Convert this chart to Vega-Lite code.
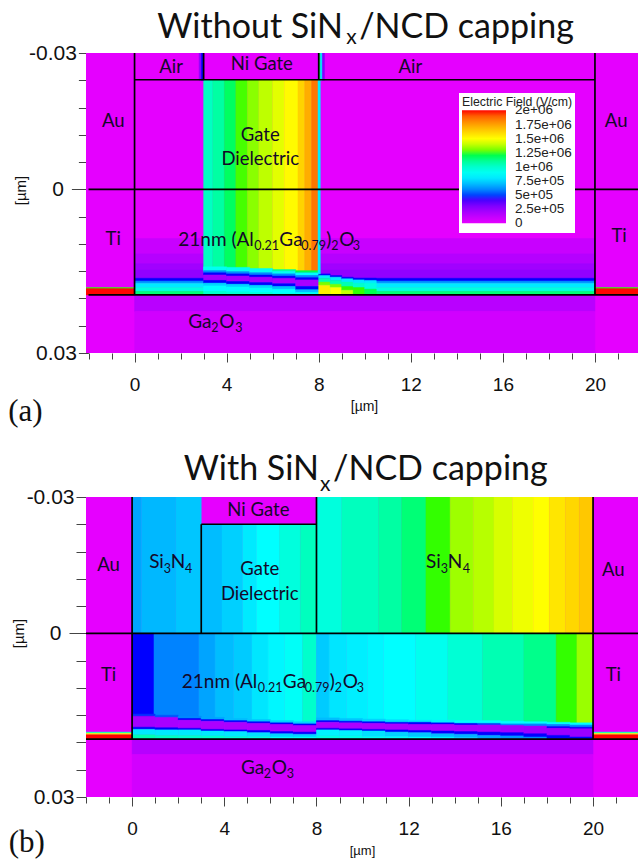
{"$schema":"https://vega.github.io/schema/vega-lite/v6.json","background":"white","padding":{"left":8,"top":10,"right":0,"bottom":0},"bounds":"flush","spacing":144,
"config":{"view":{"stroke":null},"axis":{"grid":false,"labelFont":"Liberation Sans","titleFont":"Liberation Sans","titleFontWeight":"normal","labelColor":"#111","titleColor":"#111","tickColor":"#444"},"text":{"font":"Lato","color":"#14082a"},"rule":{"color":"#000"}},
"resolve":{"scale":{"color":"independent","stroke":"independent","x":"independent","y":"independent"},"legend":{"color":"independent"}},
"datasets":{
"cellsA":[
{"x":-2.2,"x2":22,"y":-0.025,"y2":0.03,"E":0},
{"x":0,"x2":20,"y":0.009,"y2":0.0118,"E":100000},
{"x":0,"x2":20,"y":0.0118,"y2":0.0136,"E":160000},
{"x":0,"x2":20,"y":0.0136,"y2":0.0148,"E":220000},
{"x":0,"x2":20,"y":0.0148,"y2":0.0163,"E":260000},
{"x":0,"x2":20,"y":0.0163,"y2":0.0168,"E":460000},
{"x":0,"x2":20,"y":0.0168,"y2":0.0172,"E":600000},
{"x":0,"x2":20,"y":0.0172,"y2":0.018,"E":800000},
{"x":0,"x2":20,"y":0.018,"y2":0.0187,"E":950000},
{"x":0,"x2":20,"y":0.0187,"y2":0.01935,"E":1150000},
{"x":0,"x2":20,"y":0.01935,"y2":0.0224,"E":150000},
{"x":0,"x2":20,"y":0.0224,"y2":0.03,"E":70000},
{"x":-2.2,"x2":0,"y":0.018,"y2":0.0182,"E":1250000},
{"x":20,"x2":22,"y":0.018,"y2":0.0182,"E":1250000},
{"x":-2.2,"x2":0,"y":0.0182,"y2":0.01935,"E":2000000},
{"x":20,"x2":22,"y":0.0182,"y2":0.01935,"E":2000000},
{"x":3,"x2":3.4,"y":-0.0201,"y2":0.015,"E":1020000},
{"x":3.4,"x2":3.9,"y":-0.0201,"y2":0.015,"E":1080000},
{"x":3.9,"x2":4.4,"y":-0.0201,"y2":0.015,"E":1180000},
{"x":4.4,"x2":4.9,"y":-0.0201,"y2":0.015,"E":1260000},
{"x":4.9,"x2":5.4,"y":-0.0201,"y2":0.015,"E":1320000},
{"x":5.4,"x2":6,"y":-0.0201,"y2":0.015,"E":1390000},
{"x":6,"x2":6.5,"y":-0.0201,"y2":0.015,"E":1450000},
{"x":6.5,"x2":7.1,"y":-0.0201,"y2":0.015,"E":1510000},
{"x":7.1,"x2":7.4,"y":-0.0201,"y2":0.015,"E":1620000},
{"x":7.4,"x2":7.7,"y":-0.0201,"y2":0.015,"E":1720000},
{"x":7.7,"x2":8,"y":-0.0201,"y2":0.015,"E":1850000},
{"x":3,"x2":4,"y":0.0142,"y2":0.0149,"E":900000},
{"x":3,"x2":4,"y":0.0149,"y2":0.0153,"E":600000},
{"x":3,"x2":4,"y":0.0153,"y2":0.0157,"E":460000},
{"x":3,"x2":4,"y":0.0157,"y2":0.0167,"E":230000},
{"x":3,"x2":4,"y":0.0167,"y2":0.0172,"E":460000},
{"x":3,"x2":4,"y":0.0172,"y2":0.0177,"E":750000},
{"x":3,"x2":4,"y":0.0177,"y2":0.0187,"E":850000},
{"x":3,"x2":4,"y":0.0187,"y2":0.01935,"E":1000000},
{"x":4,"x2":5,"y":0.0143,"y2":0.0151,"E":900000},
{"x":4,"x2":5,"y":0.0151,"y2":0.0155,"E":600000},
{"x":4,"x2":5,"y":0.0155,"y2":0.0159,"E":460000},
{"x":4,"x2":5,"y":0.0159,"y2":0.0169,"E":220000},
{"x":4,"x2":5,"y":0.0169,"y2":0.0174,"E":460000},
{"x":4,"x2":5,"y":0.0174,"y2":0.0179,"E":750000},
{"x":4,"x2":5,"y":0.0179,"y2":0.0188,"E":850000},
{"x":4,"x2":5,"y":0.0188,"y2":0.01935,"E":980000},
{"x":5,"x2":6,"y":0.0145,"y2":0.0153,"E":900000},
{"x":5,"x2":6,"y":0.0153,"y2":0.0157,"E":600000},
{"x":5,"x2":6,"y":0.0157,"y2":0.0161,"E":460000},
{"x":5,"x2":6,"y":0.0161,"y2":0.0171,"E":220000},
{"x":5,"x2":6,"y":0.0171,"y2":0.0176,"E":460000},
{"x":5,"x2":6,"y":0.0176,"y2":0.0181,"E":750000},
{"x":5,"x2":6,"y":0.0181,"y2":0.0189,"E":850000},
{"x":5,"x2":6,"y":0.0189,"y2":0.01935,"E":950000},
{"x":6,"x2":7,"y":0.0147,"y2":0.015,"E":1100000},
{"x":6,"x2":7,"y":0.015,"y2":0.0155,"E":900000},
{"x":6,"x2":7,"y":0.0155,"y2":0.0159,"E":600000},
{"x":6,"x2":7,"y":0.0159,"y2":0.0163,"E":460000},
{"x":6,"x2":7,"y":0.0163,"y2":0.0173,"E":200000},
{"x":6,"x2":7,"y":0.0173,"y2":0.0178,"E":460000},
{"x":6,"x2":7,"y":0.0178,"y2":0.0183,"E":700000},
{"x":6,"x2":7,"y":0.0183,"y2":0.019,"E":850000},
{"x":6,"x2":7,"y":0.019,"y2":0.01935,"E":900000},
{"x":7,"x2":8,"y":0.0149,"y2":0.0153,"E":1200000},
{"x":7,"x2":8,"y":0.0153,"y2":0.0158,"E":850000},
{"x":7,"x2":8,"y":0.0158,"y2":0.0162,"E":600000},
{"x":7,"x2":8,"y":0.0162,"y2":0.0166,"E":460000},
{"x":7,"x2":8,"y":0.0166,"y2":0.0178,"E":200000},
{"x":7,"x2":8,"y":0.0178,"y2":0.0184,"E":460000},
{"x":7,"x2":8,"y":0.0184,"y2":0.0189,"E":700000},
{"x":7,"x2":8,"y":0.0189,"y2":0.01935,"E":850000},
{"x":8,"x2":8.5,"y":0.0155,"y2":0.0158,"E":460000},
{"x":8,"x2":8.5,"y":0.0158,"y2":0.0163,"E":800000},
{"x":8,"x2":8.5,"y":0.0163,"y2":0.017,"E":1050000},
{"x":8,"x2":8.5,"y":0.017,"y2":0.0176,"E":1300000},
{"x":8,"x2":8.5,"y":0.0176,"y2":0.01935,"E":1550000},
{"x":8.5,"x2":9,"y":0.0158,"y2":0.0161,"E":460000},
{"x":8.5,"x2":9,"y":0.0161,"y2":0.0167,"E":800000},
{"x":8.5,"x2":9,"y":0.0167,"y2":0.0174,"E":1050000},
{"x":8.5,"x2":9,"y":0.0174,"y2":0.018,"E":1300000},
{"x":8.5,"x2":9,"y":0.018,"y2":0.01935,"E":1500000},
{"x":9,"x2":9.5,"y":0.0161,"y2":0.0164,"E":460000},
{"x":9,"x2":9.5,"y":0.0164,"y2":0.017,"E":800000},
{"x":9,"x2":9.5,"y":0.017,"y2":0.0178,"E":1050000},
{"x":9,"x2":9.5,"y":0.0178,"y2":0.0185,"E":1250000},
{"x":9,"x2":9.5,"y":0.0185,"y2":0.01935,"E":1400000},
{"x":9.5,"x2":10,"y":0.0163,"y2":0.0166,"E":460000},
{"x":9.5,"x2":10,"y":0.0166,"y2":0.0172,"E":800000},
{"x":9.5,"x2":10,"y":0.0172,"y2":0.018,"E":1000000},
{"x":9.5,"x2":10,"y":0.018,"y2":0.01935,"E":1250000},
{"x":10,"x2":10.5,"y":0.0163,"y2":0.0167,"E":460000},
{"x":10,"x2":10.5,"y":0.0167,"y2":0.0172,"E":800000},
{"x":10,"x2":10.5,"y":0.0172,"y2":0.0183,"E":950000},
{"x":10,"x2":10.5,"y":0.0183,"y2":0.01935,"E":1200000},
{"x":2.8,"x2":2.9,"y":-0.025,"y2":-0.02,"E":250000},
{"x":2.9,"x2":3,"y":-0.025,"y2":-0.02,"E":460000},
{"x":8,"x2":8.08,"y":-0.025,"y2":-0.02,"E":1200000},
{"x":8.08,"x2":8.16,"y":-0.025,"y2":-0.02,"E":800000},
{"x":8.16,"x2":8.25,"y":-0.025,"y2":-0.02,"E":300000},
{"x":7.97,"x2":8.07,"y":-0.02,"y2":0.0155,"E":800000}
],
"cellsB":[
{"x":-2.2,"x2":22,"y":-0.025,"y2":0.03,"E":0},
{"x":0,"x2":0.4,"y":-0.025,"y2":0,"E":650000},
{"x":0.4,"x2":1.9,"y":-0.025,"y2":0,"E":690000},
{"x":1.9,"x2":3,"y":-0.025,"y2":0,"E":720000},
{"x":3,"x2":3.9,"y":-0.02,"y2":0,"E":700000},
{"x":3.9,"x2":4.8,"y":-0.02,"y2":0,"E":740000},
{"x":4.8,"x2":5.4,"y":-0.02,"y2":0,"E":800000},
{"x":5.4,"x2":6.4,"y":-0.02,"y2":0,"E":850000},
{"x":6.4,"x2":7.3,"y":-0.02,"y2":0,"E":960000},
{"x":7.3,"x2":8,"y":-0.02,"y2":0,"E":1030000},
{"x":8,"x2":9.1,"y":-0.025,"y2":0,"E":960000},
{"x":9.1,"x2":10.7,"y":-0.025,"y2":0,"E":1030000},
{"x":10.7,"x2":11.7,"y":-0.025,"y2":0,"E":1080000},
{"x":11.7,"x2":12.75,"y":-0.025,"y2":0,"E":1150000},
{"x":12.75,"x2":13.8,"y":-0.025,"y2":0,"E":1250000},
{"x":13.8,"x2":14.8,"y":-0.025,"y2":0,"E":1345000},
{"x":14.8,"x2":15.7,"y":-0.025,"y2":0,"E":1380000},
{"x":15.7,"x2":16.5,"y":-0.025,"y2":0,"E":1430000},
{"x":16.5,"x2":17.4,"y":-0.025,"y2":0,"E":1470000},
{"x":17.4,"x2":18.1,"y":-0.025,"y2":0,"E":1500000},
{"x":18.1,"x2":18.8,"y":-0.025,"y2":0,"E":1570000},
{"x":18.8,"x2":19.4,"y":-0.025,"y2":0,"E":1610000},
{"x":19.4,"x2":20,"y":-0.025,"y2":0,"E":1650000},
{"x":0,"x2":0.95,"y":0,"y2":0.0165,"E":460000},
{"x":0.95,"x2":2.9,"y":0,"y2":0.0165,"E":590000},
{"x":2.9,"x2":3.6,"y":0,"y2":0.0165,"E":650000},
{"x":3.6,"x2":4.4,"y":0,"y2":0.0165,"E":700000},
{"x":4.4,"x2":5.2,"y":0,"y2":0.0165,"E":730000},
{"x":5.2,"x2":5.9,"y":0,"y2":0.0165,"E":790000},
{"x":5.9,"x2":6.6,"y":0,"y2":0.0165,"E":830000},
{"x":6.6,"x2":7.4,"y":0,"y2":0.0165,"E":880000},
{"x":7.4,"x2":8,"y":0,"y2":0.0165,"E":1000000},
{"x":8,"x2":8.55,"y":0,"y2":0.0165,"E":730000},
{"x":8.55,"x2":9.3,"y":0,"y2":0.0165,"E":790000},
{"x":9.3,"x2":10.2,"y":0,"y2":0.0165,"E":810000},
{"x":10.2,"x2":10.9,"y":0,"y2":0.0165,"E":830000},
{"x":10.9,"x2":12.3,"y":0,"y2":0.0165,"E":850000},
{"x":12.3,"x2":13.7,"y":0,"y2":0.0165,"E":910000},
{"x":13.7,"x2":15.2,"y":0,"y2":0.0165,"E":980000},
{"x":15.2,"x2":17,"y":0,"y2":0.0165,"E":1050000},
{"x":17,"x2":18.4,"y":0,"y2":0.0165,"E":1120000},
{"x":18.4,"x2":19.3,"y":0,"y2":0.0165,"E":1250000},
{"x":19.3,"x2":20,"y":0,"y2":0.0165,"E":1340000},
{"x":0,"x2":1,"y":0.0148,"y2":0.0152,"E":480000},
{"x":0,"x2":1,"y":0.0152,"y2":0.0172,"E":210000},
{"x":0,"x2":1,"y":0.0172,"y2":0.0176,"E":460000},
{"x":0,"x2":1,"y":0.0176,"y2":0.0186,"E":800000},
{"x":0,"x2":1,"y":0.0186,"y2":0.01935,"E":1050000},
{"x":1,"x2":2,"y":0.015,"y2":0.0154,"E":520000},
{"x":1,"x2":2,"y":0.0154,"y2":0.0173,"E":200000},
{"x":1,"x2":2,"y":0.0173,"y2":0.0177,"E":460000},
{"x":1,"x2":2,"y":0.0177,"y2":0.0187,"E":800000},
{"x":1,"x2":2,"y":0.0187,"y2":0.01935,"E":1020000},
{"x":2,"x2":3,"y":0.0152,"y2":0.0156,"E":600000},
{"x":2,"x2":3,"y":0.0156,"y2":0.0159,"E":460000},
{"x":2,"x2":3,"y":0.0159,"y2":0.0174,"E":190000},
{"x":2,"x2":3,"y":0.0174,"y2":0.0177,"E":460000},
{"x":2,"x2":3,"y":0.0177,"y2":0.0187,"E":800000},
{"x":2,"x2":3,"y":0.0187,"y2":0.01935,"E":1000000},
{"x":3,"x2":4,"y":0.0154,"y2":0.0158,"E":650000},
{"x":3,"x2":4,"y":0.0158,"y2":0.0161,"E":460000},
{"x":3,"x2":4,"y":0.0161,"y2":0.0176,"E":190000},
{"x":3,"x2":4,"y":0.0176,"y2":0.0179,"E":460000},
{"x":3,"x2":4,"y":0.0179,"y2":0.0188,"E":800000},
{"x":3,"x2":4,"y":0.0188,"y2":0.01935,"E":1000000},
{"x":4,"x2":5,"y":0.0156,"y2":0.016,"E":700000},
{"x":4,"x2":5,"y":0.016,"y2":0.0163,"E":460000},
{"x":4,"x2":5,"y":0.0163,"y2":0.0177,"E":190000},
{"x":4,"x2":5,"y":0.0177,"y2":0.018,"E":460000},
{"x":4,"x2":5,"y":0.018,"y2":0.0189,"E":800000},
{"x":4,"x2":5,"y":0.0189,"y2":0.01935,"E":980000},
{"x":5,"x2":6,"y":0.0158,"y2":0.0162,"E":720000},
{"x":5,"x2":6,"y":0.0162,"y2":0.0165,"E":460000},
{"x":5,"x2":6,"y":0.0165,"y2":0.0178,"E":190000},
{"x":5,"x2":6,"y":0.0178,"y2":0.0182,"E":460000},
{"x":5,"x2":6,"y":0.0182,"y2":0.0189,"E":780000},
{"x":5,"x2":6,"y":0.0189,"y2":0.01935,"E":950000},
{"x":6,"x2":7,"y":0.016,"y2":0.0164,"E":750000},
{"x":6,"x2":7,"y":0.0164,"y2":0.0167,"E":460000},
{"x":6,"x2":7,"y":0.0167,"y2":0.018,"E":190000},
{"x":6,"x2":7,"y":0.018,"y2":0.0184,"E":460000},
{"x":6,"x2":7,"y":0.0184,"y2":0.019,"E":750000},
{"x":6,"x2":7,"y":0.019,"y2":0.01935,"E":880000},
{"x":7,"x2":8,"y":0.0162,"y2":0.0166,"E":750000},
{"x":7,"x2":8,"y":0.0166,"y2":0.0169,"E":460000},
{"x":7,"x2":8,"y":0.0169,"y2":0.0181,"E":190000},
{"x":7,"x2":8,"y":0.0181,"y2":0.0185,"E":460000},
{"x":7,"x2":8,"y":0.0185,"y2":0.019,"E":750000},
{"x":7,"x2":8,"y":0.019,"y2":0.01935,"E":880000},
{"x":8,"x2":9,"y":0.0155,"y2":0.016,"E":700000},
{"x":8,"x2":9,"y":0.016,"y2":0.0163,"E":460000},
{"x":8,"x2":9,"y":0.0163,"y2":0.0174,"E":190000},
{"x":8,"x2":9,"y":0.0174,"y2":0.0177,"E":460000},
{"x":8,"x2":9,"y":0.0177,"y2":0.0188,"E":820000},
{"x":8,"x2":9,"y":0.0188,"y2":0.01935,"E":950000},
{"x":9,"x2":10,"y":0.0156,"y2":0.0161,"E":720000},
{"x":9,"x2":10,"y":0.0161,"y2":0.0164,"E":460000},
{"x":9,"x2":10,"y":0.0164,"y2":0.0175,"E":190000},
{"x":9,"x2":10,"y":0.0175,"y2":0.0178,"E":460000},
{"x":9,"x2":10,"y":0.0178,"y2":0.0188,"E":820000},
{"x":9,"x2":10,"y":0.0188,"y2":0.01935,"E":930000},
{"x":10,"x2":11,"y":0.0157,"y2":0.0162,"E":750000},
{"x":10,"x2":11,"y":0.0162,"y2":0.0165,"E":460000},
{"x":10,"x2":11,"y":0.0165,"y2":0.0176,"E":190000},
{"x":10,"x2":11,"y":0.0176,"y2":0.0179,"E":460000},
{"x":10,"x2":11,"y":0.0179,"y2":0.0189,"E":780000},
{"x":10,"x2":11,"y":0.0189,"y2":0.01935,"E":900000},
{"x":11,"x2":12,"y":0.0158,"y2":0.0163,"E":780000},
{"x":11,"x2":12,"y":0.0163,"y2":0.0166,"E":460000},
{"x":11,"x2":12,"y":0.0166,"y2":0.0177,"E":190000},
{"x":11,"x2":12,"y":0.0177,"y2":0.0181,"E":460000},
{"x":11,"x2":12,"y":0.0181,"y2":0.0189,"E":750000},
{"x":11,"x2":12,"y":0.0189,"y2":0.01935,"E":880000},
{"x":12,"x2":13,"y":0.0159,"y2":0.0163,"E":800000},
{"x":12,"x2":13,"y":0.0163,"y2":0.0167,"E":460000},
{"x":12,"x2":13,"y":0.0167,"y2":0.0178,"E":190000},
{"x":12,"x2":13,"y":0.0178,"y2":0.0182,"E":460000},
{"x":12,"x2":13,"y":0.0182,"y2":0.019,"E":720000},
{"x":12,"x2":13,"y":0.019,"y2":0.01935,"E":860000},
{"x":13,"x2":14,"y":0.0159,"y2":0.0164,"E":820000},
{"x":13,"x2":14,"y":0.0164,"y2":0.0167,"E":460000},
{"x":13,"x2":14,"y":0.0167,"y2":0.0179,"E":190000},
{"x":13,"x2":14,"y":0.0179,"y2":0.0184,"E":460000},
{"x":13,"x2":14,"y":0.0184,"y2":0.019,"E":700000},
{"x":13,"x2":14,"y":0.019,"y2":0.01935,"E":820000},
{"x":14,"x2":15,"y":0.016,"y2":0.0165,"E":850000},
{"x":14,"x2":15,"y":0.0165,"y2":0.0168,"E":460000},
{"x":14,"x2":15,"y":0.0168,"y2":0.018,"E":200000},
{"x":14,"x2":15,"y":0.018,"y2":0.0185,"E":460000},
{"x":14,"x2":15,"y":0.0185,"y2":0.0191,"E":680000},
{"x":14,"x2":15,"y":0.0191,"y2":0.01935,"E":780000},
{"x":15,"x2":16,"y":0.016,"y2":0.0165,"E":850000},
{"x":15,"x2":16,"y":0.0165,"y2":0.0168,"E":500000},
{"x":15,"x2":16,"y":0.0168,"y2":0.0181,"E":200000},
{"x":15,"x2":16,"y":0.0181,"y2":0.0187,"E":460000},
{"x":15,"x2":16,"y":0.0187,"y2":0.01935,"E":650000},
{"x":16,"x2":17,"y":0.0161,"y2":0.0166,"E":850000},
{"x":16,"x2":17,"y":0.0166,"y2":0.0169,"E":600000},
{"x":16,"x2":17,"y":0.0169,"y2":0.0182,"E":220000},
{"x":16,"x2":17,"y":0.0182,"y2":0.0188,"E":460000},
{"x":16,"x2":17,"y":0.0188,"y2":0.01935,"E":620000},
{"x":17,"x2":18,"y":0.0162,"y2":0.0166,"E":850000},
{"x":17,"x2":18,"y":0.0166,"y2":0.017,"E":600000},
{"x":17,"x2":18,"y":0.017,"y2":0.0184,"E":230000},
{"x":17,"x2":18,"y":0.0184,"y2":0.019,"E":460000},
{"x":17,"x2":18,"y":0.019,"y2":0.01935,"E":600000},
{"x":18,"x2":19,"y":0.0163,"y2":0.0167,"E":850000},
{"x":18,"x2":19,"y":0.0167,"y2":0.0171,"E":600000},
{"x":18,"x2":19,"y":0.0171,"y2":0.0174,"E":460000},
{"x":18,"x2":19,"y":0.0174,"y2":0.0187,"E":240000},
{"x":18,"x2":19,"y":0.0187,"y2":0.01935,"E":460000},
{"x":19,"x2":20,"y":0.0164,"y2":0.0168,"E":850000},
{"x":19,"x2":20,"y":0.0168,"y2":0.0172,"E":600000},
{"x":19,"x2":20,"y":0.0172,"y2":0.0175,"E":460000},
{"x":19,"x2":20,"y":0.0175,"y2":0.019,"E":240000},
{"x":19,"x2":20,"y":0.019,"y2":0.01935,"E":460000},
{"x":0,"x2":20,"y":0.0194,"y2":0.0222,"E":160000},
{"x":0,"x2":20,"y":0.0222,"y2":0.03,"E":70000},
{"x":-2.2,"x2":0,"y":0.0181,"y2":0.0183,"E":1000000},
{"x":20,"x2":22,"y":0.0181,"y2":0.0183,"E":1000000},
{"x":-2.2,"x2":0,"y":0.0183,"y2":0.0186,"E":1500000},
{"x":20,"x2":22,"y":0.0183,"y2":0.0186,"E":1500000},
{"x":-2.2,"x2":0,"y":0.0186,"y2":0.0194,"E":2000000},
{"x":20,"x2":22,"y":0.0186,"y2":0.0194,"E":2000000}
],
"linesA":[
{"x":-2,"x2":22,"y":0,"y2":0},
{"x":-2,"x2":22,"y":0.01935,"y2":0.01935},
{"x":0,"x2":20,"y":-0.0201,"y2":-0.0201},
{"x":0,"x2":0,"y":-0.025,"y2":0.01935},
{"x":20,"x2":20,"y":-0.025,"y2":0.01935},
{"x":3,"x2":3,"y":-0.025,"y2":-0.0201},
{"x":8,"x2":8,"y":-0.025,"y2":-0.0201}
],
"linesB":[
{"x":-2,"x2":22,"y":0,"y2":0},
{"x":-2,"x2":22,"y":0.0194,"y2":0.0194},
{"x":3,"x2":8,"y":-0.02,"y2":-0.02},
{"x":0,"x2":0,"y":-0.025,"y2":0.0194},
{"x":20,"x2":20,"y":-0.025,"y2":0.0194},
{"x":3,"x2":3,"y":-0.02,"y2":0},
{"x":8,"x2":8,"y":-0.025,"y2":0}
],
"labelsA":[
{"kind":"label","x":1.59,"y":-0.0224,"t":"Air"},
{"kind":"label","x":5.53,"y":-0.0229,"t":"Ni Gate"},
{"kind":"label","x":11.98,"y":-0.0224,"t":"Air"},
{"kind":"label","x":-0.925,"y":-0.0125,"t":"Au"},
{"kind":"label","x":-0.925,"y":0.00903,"t":"Ti"},
{"kind":"label","x":20.92,"y":-0.0125,"t":"Au"},
{"kind":"label","x":21.05,"y":0.00861,"t":"Ti"},
{"kind":"label","x":5.46,"y":-0.0099,"t":"Gate"},
{"kind":"label","x":5.46,"y":-0.0055,"t":"Dielectric"},
{"kind":"piece","x":1.9,"y":0.00934,"t":"21nm (Al"},
{"kind":"sub","x":5.2,"y":0.01035,"t":"0.21"},
{"kind":"piece","x":6.29,"y":0.00934,"t":"Ga"},
{"kind":"sub","x":7.24,"y":0.01035,"t":"0.79"},
{"kind":"piece","x":8.33,"y":0.00934,"t":")"},
{"kind":"sub","x":8.54,"y":0.01035,"t":"2"},
{"kind":"piece","x":8.89,"y":0.00934,"t":"O"},
{"kind":"sub","x":9.48,"y":0.01035,"t":"3"},
{"kind":"piece","x":2.33,"y":0.02436,"t":"Ga"},
{"kind":"sub","x":3.33,"y":0.02537,"t":"2"},
{"kind":"piece","x":3.68,"y":0.02436,"t":"O"},
{"kind":"sub","x":4.37,"y":0.02537,"t":"3"},
{"kind":"title","x":0.986,"y":-0.02967,"t":"Without SiN"},
{"kind":"titleSub","x":9.2,"y":-0.02766,"t":"x"},
{"kind":"title","x":9.76,"y":-0.02967,"t":"/NCD capping"},
{"kind":"tag","x":-5.49,"y":0.04079,"t":"(a)"}
],
"labelsB":[
{"kind":"label","x":-1.02,"y":-0.0125,"t":"Au"},
{"kind":"label","x":-1.02,"y":0.00763,"t":"Ti"},
{"kind":"label","x":20.88,"y":-0.0116,"t":"Au"},
{"kind":"label","x":20.88,"y":0.00763,"t":"Ti"},
{"kind":"piece","x":0.74,"y":-0.013,"t":"Si"},
{"kind":"sub","x":1.375,"y":-0.01172,"t":"3"},
{"kind":"piece","x":1.68,"y":-0.013,"t":"N"},
{"kind":"sub","x":2.29,"y":-0.01172,"t":"4"},
{"kind":"piece","x":12.75,"y":-0.013,"t":"Si"},
{"kind":"sub","x":13.39,"y":-0.01172,"t":"3"},
{"kind":"piece","x":13.7,"y":-0.013,"t":"N"},
{"kind":"sub","x":14.35,"y":-0.01172,"t":"4"},
{"kind":"label","x":5.48,"y":-0.0227,"t":"Ni Gate"},
{"kind":"label","x":5.54,"y":-0.01178,"t":"Gate"},
{"kind":"label","x":5.54,"y":-0.0072,"t":"Dielectric"},
{"kind":"piece","x":2.156,"y":0.00886,"t":"21nm (Al"},
{"kind":"sub","x":5.45,"y":0.00996,"t":"0.21"},
{"kind":"piece","x":6.54,"y":0.00886,"t":"Ga"},
{"kind":"sub","x":7.49,"y":0.00996,"t":"0.79"},
{"kind":"piece","x":8.58,"y":0.00886,"t":")"},
{"kind":"sub","x":8.79,"y":0.00996,"t":"2"},
{"kind":"piece","x":9.14,"y":0.00886,"t":"O"},
{"kind":"sub","x":9.75,"y":0.00996,"t":"3"},
{"kind":"piece","x":4.72,"y":0.02473,"t":"Ga"},
{"kind":"sub","x":5.71,"y":0.0258,"t":"2"},
{"kind":"piece","x":6.06,"y":0.02473,"t":"O"},
{"kind":"sub","x":6.71,"y":0.0258,"t":"3"},
{"kind":"title","x":2.24,"y":-0.0299,"t":"With SiN"},
{"kind":"titleSub","x":8.15,"y":-0.0272,"t":"x"},
{"kind":"title","x":8.72,"y":-0.0299,"t":"/NCD capping"},
{"kind":"tag","x":-5.35,"y":0.03846,"t":"(b)"}
]},
"vconcat":[
{"width":552,"height":300,"layer":[
{"data":{"name":"cellsA"},"mark":{"type":"rect","clip":true,"strokeWidth":0.5},"encoding":{
"x":{"field":"x","type":"quantitative","scale":{"domain":[-2.109,21.87],"nice":false,"zero":false},"axis":{"values":[-2,-1,0,1,2,3,4,5,6,7,8,9,10,11,12,13,14,15,16,17,18,19,20,21],"tickCount":100,"labelExpr":"datum.value%4==0?datum.value:''","tickSize":{"condition":{"test":"datum.value%4==0","value":9},"value":6},"labelFontSize":19,"labelPadding":13,"domain":false,"labelFlush":false,"labelOverlap":false,"title":"[µm]","titleFontSize":14,"titleX":278,"titleY":46}},
"x2":{"field":"x2"},
"y":{"field":"y","type":"quantitative","scale":{"domain":[-0.025,0.03],"reverse":true,"nice":false,"zero":false},"axis":{"values":[-0.025,-0.02,-0.015,-0.01,-0.005,0,0.005,0.01,0.015,0.02,0.025,0.03],"tickCount":100,"offset":-2.4,"labelExpr":"abs(datum.value+0.025)<1e-9?'-0.03':abs(datum.value)<1e-9?'0':abs(datum.value-0.03)<1e-9?'0.03':''","tickSize":{"condition":{"test":"abs(datum.value)<1e-9","value":17},"value":10},"labelFontSize":21,"labelPadding":{"condition":{"test":"abs(datum.value)<1e-9","value":8},"value":2},"domain":false,"labelFlush":false,"labelOverlap":false,"title":"[µm]","titleFontSize":15,"titleX":-60,"titleY":137}},
"y2":{"field":"y2"},
"stroke":{"field":"E","type":"quantitative","scale":{"domain":[0,460000,850000,1250000,1500000,2000001],"range":["#e600ff","#0000ff","#00ffff","#33ff00","#ffff00","#ff0000"],"clamp":true},"legend":null},
"color":{"field":"E","type":"quantitative","scale":{"domain":[-2000,460000,850000,1250000,1500000,2002000],"range":["#e600ff","#0000ff","#00ffff","#33ff00","#ffff00","#ff0000"],"clamp":true},"legend":{"type":"gradient","orient":"none","legendX":373,"legendY":40,"zindex":1,"fillColor":"white","padding":3,"title":"Electric Field (V/cm)","titleFont":"Liberation Sans","titleFontSize":12.3,"titleFontWeight":"normal","titleColor":"#222","titlePadding":2,"values":[0,250000,500000,750000,1000000,1250000,1500000,1750000,2000000],"labelExpr":"datum.value==0?'0':replace(format(datum.value,'.3~e'),'e+','e+0')","labelFont":"Liberation Sans","labelFontSize":13.5,"labelColor":"#222","labelOffset":9,"labelOverlap":false,"labelBaseline":"middle","gradientLength":113,"gradientThickness":44,"gradientStrokeWidth":0}}}},
{"data":{"name":"linesA"},"mark":{"type":"rule","strokeWidth":1.7,"clip":true},"encoding":{"x":{"field":"x","type":"quantitative"},"x2":{"field":"x2"},"y":{"field":"y","type":"quantitative"},"y2":{"field":"y2"}}},
{"data":{"name":"labelsA"},"transform":[{"filter":"datum.kind=='label'"}],"mark":{"type":"text","fontSize":18.5,"align":"center","baseline":"middle"},"encoding":{"x":{"field":"x","type":"quantitative"},"y":{"field":"y","type":"quantitative"},"text":{"field":"t"}}},
{"data":{"name":"labelsA"},"transform":[{"filter":"datum.kind=='piece'"}],"mark":{"type":"text","fontSize":19,"align":"left","baseline":"middle"},"encoding":{"x":{"field":"x","type":"quantitative"},"y":{"field":"y","type":"quantitative"},"text":{"field":"t"}}},
{"data":{"name":"labelsA"},"transform":[{"filter":"datum.kind=='sub'"}],"mark":{"type":"text","fontSize":12.5,"align":"left","baseline":"middle"},"encoding":{"x":{"field":"x","type":"quantitative"},"y":{"field":"y","type":"quantitative"},"text":{"field":"t"}}},
{"data":{"name":"labelsA"},"transform":[{"filter":"datum.kind=='title'"}],"mark":{"type":"text","fontSize":34,"align":"left","baseline":"middle","color":"#111"},"encoding":{"x":{"field":"x","type":"quantitative"},"y":{"field":"y","type":"quantitative"},"text":{"field":"t"}}},
{"data":{"name":"labelsA"},"transform":[{"filter":"datum.kind=='titleSub'"}],"mark":{"type":"text","fontSize":21,"align":"left","baseline":"middle","color":"#111"},"encoding":{"x":{"field":"x","type":"quantitative"},"y":{"field":"y","type":"quantitative"},"text":{"field":"t"}}},
{"data":{"name":"labelsA"},"transform":[{"filter":"datum.kind=='tag'"}],"mark":{"type":"text","fontSize":31,"font":"Liberation Serif","align":"left","baseline":"middle","color":"#111"},"encoding":{"x":{"field":"x","type":"quantitative"},"y":{"field":"y","type":"quantitative"},"text":{"field":"t"}}}
]},
{"width":552,"height":300,"layer":[
{"data":{"name":"cellsB"},"mark":{"type":"rect","clip":true,"strokeWidth":0.5},"encoding":{
"x":{"field":"x","type":"quantitative","scale":{"domain":[-2,21.95],"nice":false,"zero":false},"axis":{"values":[-2,-1,0,1,2,3,4,5,6,7,8,9,10,11,12,13,14,15,16,17,18,19,20,21],"tickCount":100,"labelExpr":"datum.value%4==0?datum.value:''","tickSize":{"condition":{"test":"datum.value%4==0","value":9},"value":6},"labelFontSize":19,"labelPadding":13,"domain":false,"labelFlush":false,"labelOverlap":false,"title":"[µm]","titleFontSize":13,"titleX":276,"titleY":47}},
"x2":{"field":"x2"},
"y":{"field":"y","type":"quantitative","scale":{"domain":[-0.025,0.03],"reverse":true,"nice":false,"zero":false},"axis":{"values":[-0.025,-0.02,-0.015,-0.01,-0.005,0,0.005,0.01,0.015,0.02,0.025,0.03],"tickCount":100,"labelExpr":"abs(datum.value+0.025)<1e-9?'-0.03':abs(datum.value)<1e-9?'0':abs(datum.value-0.03)<1e-9?'0.03':''","tickSize":{"condition":{"test":"abs(datum.value)<1e-9","value":17},"value":10},"labelFontSize":21,"labelPadding":{"condition":{"test":"abs(datum.value)<1e-9","value":8},"value":2},"domain":false,"labelFlush":false,"labelOverlap":false,"title":"[µm]","titleFontSize":15,"titleX":-60,"titleY":136}},
"y2":{"field":"y2"},
"stroke":{"field":"E","type":"quantitative","scale":{"domain":[0,460000,850000,1250000,1500000,2000001],"range":["#e600ff","#0000ff","#00ffff","#33ff00","#ffff00","#ff0000"],"clamp":true},"legend":null},
"color":{"field":"E","type":"quantitative","scale":{"domain":[0,460000,850000,1250000,1500000,2000000],"range":["#e600ff","#0000ff","#00ffff","#33ff00","#ffff00","#ff0000"],"clamp":true},"legend":null}}},
{"data":{"name":"linesB"},"mark":{"type":"rule","strokeWidth":1.7,"clip":true},"encoding":{"x":{"field":"x","type":"quantitative"},"x2":{"field":"x2"},"y":{"field":"y","type":"quantitative"},"y2":{"field":"y2"}}},
{"data":{"name":"labelsB"},"transform":[{"filter":"datum.kind=='label'"}],"mark":{"type":"text","fontSize":18.5,"align":"center","baseline":"middle"},"encoding":{"x":{"field":"x","type":"quantitative"},"y":{"field":"y","type":"quantitative"},"text":{"field":"t"}}},
{"data":{"name":"labelsB"},"transform":[{"filter":"datum.kind=='piece'"}],"mark":{"type":"text","fontSize":19,"align":"left","baseline":"middle"},"encoding":{"x":{"field":"x","type":"quantitative"},"y":{"field":"y","type":"quantitative"},"text":{"field":"t"}}},
{"data":{"name":"labelsB"},"transform":[{"filter":"datum.kind=='sub'"}],"mark":{"type":"text","fontSize":12.5,"align":"left","baseline":"middle"},"encoding":{"x":{"field":"x","type":"quantitative"},"y":{"field":"y","type":"quantitative"},"text":{"field":"t"}}},
{"data":{"name":"labelsB"},"transform":[{"filter":"datum.kind=='title'"}],"mark":{"type":"text","fontSize":34,"align":"left","baseline":"middle","color":"#111"},"encoding":{"x":{"field":"x","type":"quantitative"},"y":{"field":"y","type":"quantitative"},"text":{"field":"t"}}},
{"data":{"name":"labelsB"},"transform":[{"filter":"datum.kind=='titleSub'"}],"mark":{"type":"text","fontSize":21,"align":"left","baseline":"middle","color":"#111"},"encoding":{"x":{"field":"x","type":"quantitative"},"y":{"field":"y","type":"quantitative"},"text":{"field":"t"}}},
{"data":{"name":"labelsB"},"transform":[{"filter":"datum.kind=='tag'"}],"mark":{"type":"text","fontSize":31,"font":"Liberation Serif","align":"left","baseline":"middle","color":"#111"},"encoding":{"x":{"field":"x","type":"quantitative"},"y":{"field":"y","type":"quantitative"},"text":{"field":"t"}}}
]}
]}
